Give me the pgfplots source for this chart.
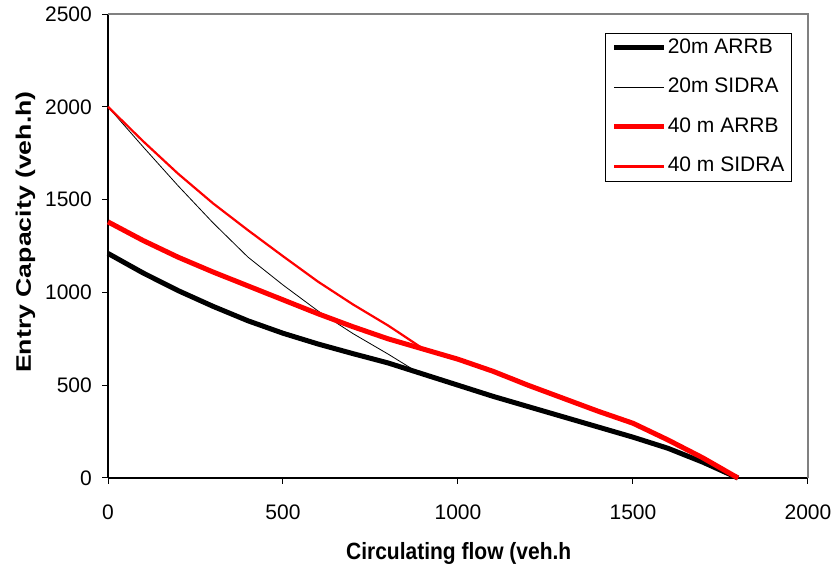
\documentclass[border=0pt]{standalone}
\usepackage{pgfplots}
\pgfplotsset{compat=1.18}
\usepackage{pgfplotstable}
\usepackage{fontspec}
\setmainfont{Liberation Sans}

\pgfplotstableread{
x y
0 1210
100 1105
200 1010
300 925
400 847
500 780
600 722
700 670
800 620
900 560
1000 500
1100 440
1200 385
1300 330
1400 275
1500 220
1600 160
1700 85
1800 0
}\arrbA

\pgfplotstableread{
x y
0 2000
100 1785
200 1575
300 1375
400 1190
500 1040
600 900
700 778
800 668
880 575
900 560
1000 500
1100 440
1200 385
1300 330
1400 275
1500 220
1600 160
1700 85
1800 0
}\sidraA

\pgfplotstableread{
x y
0 1380
100 1280
200 1190
300 1110
400 1035
500 960
600 885
700 815
800 750
900 695
1000 640
1100 575
1200 500
1300 430
1400 360
1500 295
1600 205
1700 108
1800 0
}\arrbB

\pgfplotstableread{
x y
0 2000
100 1815
200 1640
300 1480
400 1335
500 1195
600 1058
700 935
800 822
900 697
1000 640
1100 575
1200 500
1300 430
1400 360
1500 295
1600 205
1700 108
1800 0
}\sidraB

\begin{document}
\begin{tikzpicture}
\begin{axis}[
  scale only axis,
  width=700pt, height=464pt,
  xmin=0, xmax=2000, ymin=0, ymax=2500,
  xtick={0,500,...,2000}, ytick={0,500,...,2500},
  axis x line*=bottom, axis y line*=left,
  axis line style={-, black, line width=1.2pt},
  tick align=outside, major tick length=6pt,
  tick style={black, line width=1pt},
  /pgf/number format/assume math mode=true,
  /pgf/number format/1000 sep={},
  tick label style={font=\fontsize{21}{25}\selectfont},
  xticklabel style={inner sep=0pt, anchor=north, yshift=-21pt},
  yticklabel style={inner sep=0pt, anchor=east, xshift=-10pt},
  xlabel={\scalebox{1}[1.12]{Circulating flow (veh.h}},
  ylabel={\scalebox{1.27}[1]{Entry Capacity (veh.h)}},
  label style={font=\fontsize{21}{25}\selectfont\bfseries},
  xlabel style={at={(rel axis cs:0.501,-0.162)}, anchor=center},
  ylabel style={at={(rel axis cs:-0.118,0.53)}, anchor=center},
  clip=false,
  legend style={at={(rel axis cs:0.977,0.959)}, anchor=north east,
    draw=black, line width=0.8pt, inner xsep=6pt, inner ysep=4pt,
    font=\fontsize{21}{25}\selectfont,
    row sep=18.5pt,
    nodes={inner sep=1pt, anchor=west, text height=15pt, text depth=4pt}},
  legend cell align=left,
  legend image code/.code={\draw[#1] (0pt,0pt) -- (50pt,0pt);},
]
\draw[draw=none] (rel axis cs:-0.1543,-0.2047) rectangle (rel axis cs:1.0386,1.0302);
\draw[gray, line width=2pt] (rel axis cs:0,1) -- (rel axis cs:1,1) -- (rel axis cs:1,0);
\addplot[black, line width=5pt, line join=round] table[x=x,y=y] {\arrbA};
\addlegendentry{20m ARRB}
\addplot[black, line width=0.8pt, line join=round] table[x=x,y=y] {\sidraA};
\addlegendentry{20m SIDRA}
\addplot[red, line width=5pt, line join=round] table[x=x,y=y] {\arrbB};
\addlegendentry{40 m ARRB}
\addplot[red, line width=2.2pt, line join=round] table[x=x,y=y] {\sidraB};
\addlegendentry{40 m SIDRA}
\end{axis}
\end{tikzpicture}
\end{document}
